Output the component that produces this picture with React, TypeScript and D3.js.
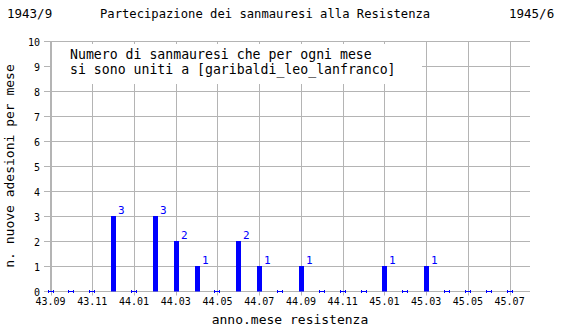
import React from "react";
import * as d3 from "d3";

const months = ["43.09","43.10","43.11","43.12","44.01","44.02","44.03","44.04","44.05","44.06","44.07","44.08","44.09","44.10","44.11","44.12","45.01","45.02","45.03","45.04","45.05","45.06","45.07"];
const values = [0,0,0,3,0,3,2,1,0,2,1,0,1,0,0,0,1,0,1,0,0,0,0];
const yTicks = [0,1,2,3,4,5,6,7,8,9,10];
const titleLeft = "1943/9";
const titleMain = "Partecipazione dei sanmauresi alla Resistenza";
const titleRight = "1945/6";
const legendLines = ["Numero di sanmauresi che per ogni mese", "si sono uniti a [garibaldi_leo_lanfranco]"];
const xTitle = "anno.mese resistenza";
const yTitle = "n. nuove adesioni per mese";

const FONT = "'DejaVu Sans Mono', monospace";
const GRID = "#b4b4b4";
const BLUE = "#0000ff";

export default function App() {
  const W = 570, H = 330;
  const x = d3.scaleLinear().domain([0, 23]).range([50.5, 530.5]);
  const y = d3.scaleLinear().domain([0, 10]).range([291.5, 41.5]);
  const gridIdx = months.map((_, i) => i).filter(i => i % 2 === 0);
  return (
    <svg width={W} height={H} style={{ position: "absolute", left: 0, top: 0, background: "#fff" }} fontFamily={FONT}>
      <rect width={W} height={H} fill="#fff" />
      {yTicks.map(t => (
        <line key={"h" + t} x1={44} x2={530} y1={y(t)} y2={y(t)} stroke={GRID} strokeWidth={1} />
      ))}
      {gridIdx.map(i => (
        <line key={"v" + i} x1={Math.round(x(i)) + 0.5} x2={Math.round(x(i)) + 0.5} y1={y(10)} y2={y(0) + 4} stroke={GRID} strokeWidth={1} />
      ))}
      <rect x={52} y={44} width={370} height={40} fill="#fff" />
      {legendLines.map((l, k) => (
        <text key={"l" + k} x={70} y={59 + k * 15} fontSize={13.2} fill="#000">{l}</text>
      ))}
      <line x1={50.5} x2={50.5} y1={y(10)} y2={y(0)} stroke={GRID} />
      {yTicks.map(t => (
        <text key={"yt" + t} x={40} y={y(t) + 4} fontSize={10} textAnchor="end" fill="#000">{t}</text>
      ))}
      {gridIdx.map(i => (
        <text key={"xt" + i} x={x(i)} y={305} fontSize={10} textAnchor="middle" fill="#000">{months[i]}</text>
      ))}
      {values.map((v, i) => {
        const cx = Math.round(x(i));
        if (v === 0) {
          return (
            <g key={"m" + i} stroke={BLUE} strokeWidth={1}>
              <line x1={cx - 2} x2={cx + 3} y1={291.5} y2={291.5} />
              <line x1={cx - 2.5} x2={cx - 2.5} y1={290} y2={293} />
              <line x1={cx + 2.5} x2={cx + 2.5} y1={290} y2={293} />
            </g>
          );
        }
        return (
          <g key={"b" + i}>
            <rect x={cx - 2} y={y(v) - 0.5} width={5} height={y(0) - y(v) + 0.5} fill={BLUE} />
            <text x={cx + 5} y={y(v) - 3} fontSize={11} fill={BLUE}>{v}</text>
          </g>
        );
      })}
      <text x={7} y={18} fontSize={12.5} fill="#000">{titleLeft}</text>
      <text x={100} y={18} fontSize={12.2} fill="#000">{titleMain}</text>
      <text x={509} y={18} fontSize={12.5} fill="#000">{titleRight}</text>
      <text x={290} y={324} fontSize={13} textAnchor="middle" fill="#000">{xTitle}</text>
      <text transform={`translate(14,${166}) rotate(-90)`} fontSize={13} textAnchor="middle" fill="#000">{yTitle}</text>
    </svg>
  );
}
